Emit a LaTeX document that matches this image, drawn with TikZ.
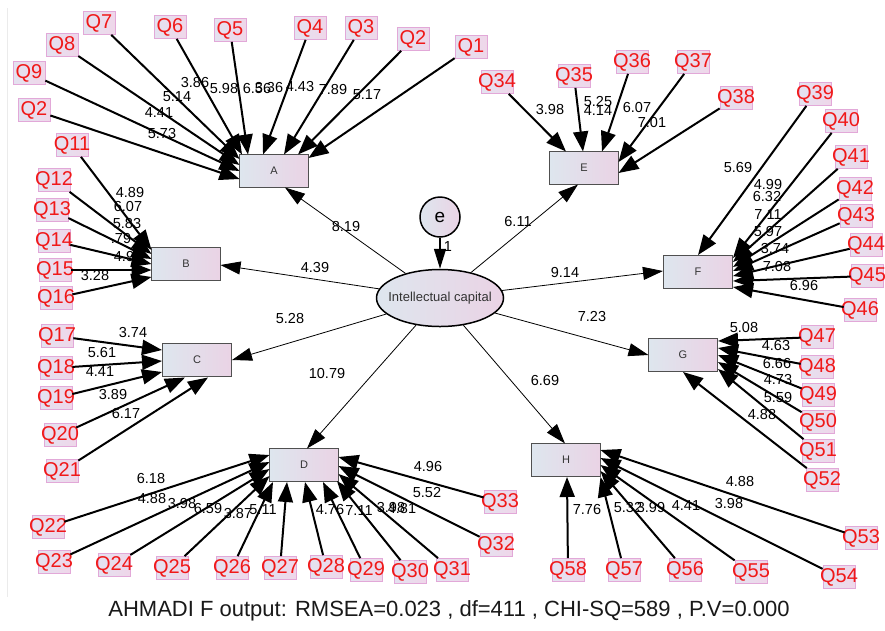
\documentclass[tikz,border=0pt]{standalone}
\usepackage{fontspec}
\setmainfont{Liberation Sans}
\usetikzlibrary{arrows.meta,calc,shapes.geometric}
\definecolor{qred}{HTML}{F01818}
\definecolor{qL}{HTML}{E4E2F0}
\definecolor{qR}{HTML}{EFD6E9}
\definecolor{qborder}{HTML}{E2A8D8}
\definecolor{qshadow}{HTML}{8878C8}
\definecolor{cL}{HTML}{DEE6EE}
\definecolor{cR}{HTML}{EAD3E5}
\definecolor{cborder}{HTML}{505050}
\definecolor{ctext}{HTML}{333333}
\newcommand\qfnt{\fontsize{20}{20}\selectfont}
\newcommand\nfnt{\fontsize{14.5}{14.5}\selectfont}
\newcommand\cfnt{\fontsize{11}{11}\selectfont}
\begin{document}
\begin{tikzpicture}[x=1pt,y=-1pt,
  qbox/.style={draw=qborder, line width=0.7pt, left color=qL, right color=qR,
    minimum width=32pt, minimum height=23pt, inner sep=0pt, text=qred, font=\qfnt,
    path picture={\draw[qshadow, line width=1.4pt]
      (path picture bounding box.north west) -- (path picture bounding box.south west)
      -- (path picture bounding box.south east);}},
  cbox/.style={draw=cborder, line width=1.2pt, left color=cL, right color=cR,
    minimum width=69pt, minimum height=33pt, inner sep=0pt, text=ctext, font=\cfnt},
  ind/.style={line width=2pt, -{Triangle[length=20pt,width=15pt]}},
  stru/.style={line width=0.8pt, -{Triangle[length=20pt,width=13pt]}},
  num/.style={font=\nfnt, inner sep=0pt, text=black}]
\useasboundingbox (0,0) rectangle (885,630);
\fill[white] (0,0) rectangle (885,630);
\draw[black!8, line width=0.8pt] (7,8) coordinate (lt) -- (7,597) coordinate (lb);

% constructs
\node[cbox] (A) at (274,171) {A};
\node[cbox] (B) at (186,264) {B};
\node[cbox] (C) at (197,360) {C};
\node[cbox] (D) at (304,465) {D};
\node[cbox] (E) at (584,168) {E};
\node[cbox] (F) at (698,272) {F};
\node[cbox] (G) at (683,355) {G};
\node[cbox] (H) at (566,460) {H};
\node[ellipse, draw=black, line width=1.5pt, left color=cL, right color=cR,
  minimum width=127pt, minimum height=57pt, inner sep=0pt, text=ctext,
  font=\fontsize{13}{13}\selectfont] (ic) at (440,298) {\makebox[0pt]{Intellectual capital}};
\node[circle, draw=black, line width=1.5pt, left color=cL, right color=cR,
  minimum size=40pt, inner sep=0pt, font=\fontsize{19}{19}\selectfont] (e) at (440,217) {e};

% indicators
\node[qbox] (Q7) at (99,23) {\makebox[0pt]{Q7}};
\node[qbox] (Q6) at (170,27) {\makebox[0pt]{Q6}};
\node[qbox] (Q5) at (230,30) {\makebox[0pt]{Q5}};
\node[qbox] (Q4) at (310,28) {\makebox[0pt]{Q4}};
\node[qbox] (Q3) at (361,28) {\makebox[0pt]{Q3}};
\node[qbox] (Q2) at (413,39) {\makebox[0pt]{Q2}};
\node[qbox] (Q1) at (471,47) {\makebox[0pt]{Q1}};
\node[qbox] (Q8) at (62,45) {\makebox[0pt]{Q8}};
\node[qbox] (Q9) at (29,73) {\makebox[0pt]{Q9}};
\node[qbox] (Q2a) at (34,110) {\makebox[0pt]{Q2}};
\node[qbox] (Q11) at (72,145) {\makebox[0pt]{Q11}};
\node[qbox] (Q12) at (54,180) {\makebox[0pt]{Q12}};
\node[qbox] (Q13) at (52,210) {\makebox[0pt]{Q13}};
\node[qbox] (Q14) at (54,241) {\makebox[0pt]{Q14}};
\node[qbox] (Q15) at (55,270) {\makebox[0pt]{Q15}};
\node[qbox] (Q16) at (56,298) {\makebox[0pt]{Q16}};
\node[qbox] (Q17) at (57,336) {\makebox[0pt]{Q17}};
\node[qbox] (Q18) at (56,368) {\makebox[0pt]{Q18}};
\node[qbox] (Q19) at (56,398) {\makebox[0pt]{Q19}};
\node[qbox] (Q20) at (60,435) {\makebox[0pt]{Q20}};
\node[qbox] (Q21) at (62,471) {\makebox[0pt]{Q21}};
\node[qbox] (Q22) at (48,527) {\makebox[0pt]{Q22}};
\node[qbox] (Q23) at (54,562) {\makebox[0pt]{Q23}};
\node[qbox] (Q24) at (114,565) {\makebox[0pt]{Q24}};
\node[qbox] (Q25) at (172,568) {\makebox[0pt]{Q25}};
\node[qbox] (Q26) at (232,568) {\makebox[0pt]{Q26}};
\node[qbox] (Q27) at (280,568) {\makebox[0pt]{Q27}};
\node[qbox] (Q28) at (326,567) {\makebox[0pt]{Q28}};
\node[qbox] (Q29) at (366,570) {\makebox[0pt]{Q29}};
\node[qbox] (Q30) at (410,572) {\makebox[0pt]{Q30}};
\node[qbox] (Q31) at (452,570) {\makebox[0pt]{Q31}};
\node[qbox] (Q32) at (496,545) {\makebox[0pt]{Q32}};
\node[qbox] (Q33) at (500,502) {\makebox[0pt]{Q33}};
\node[qbox] (Q34) at (497,82) {\makebox[0pt]{Q34}};
\node[qbox] (Q35) at (574,76) {\makebox[0pt]{Q35}};
\node[qbox] (Q36) at (632,62) {\makebox[0pt]{Q36}};
\node[qbox] (Q37) at (693,62) {\makebox[0pt]{Q37}};
\node[qbox] (Q38) at (736,98) {\makebox[0pt]{Q38}};
\node[qbox] (Q39) at (815,94) {\makebox[0pt]{Q39}};
\node[qbox] (Q40) at (841,121) {\makebox[0pt]{Q40}};
\node[qbox] (Q41) at (851,157) {\makebox[0pt]{Q41}};
\node[qbox] (Q42) at (855,189) {\makebox[0pt]{Q42}};
\node[qbox] (Q43) at (856,216) {\makebox[0pt]{Q43}};
\node[qbox] (Q44) at (866,245) {\makebox[0pt]{Q44}};
\node[qbox] (Q45) at (867,276) {\makebox[0pt]{Q45}};
\node[qbox] (Q46) at (860,310) {\makebox[0pt]{Q46}};
\node[qbox] (Q47) at (817,337) {\makebox[0pt]{Q47}};
\node[qbox] (Q48) at (817,367) {\makebox[0pt]{Q48}};
\node[qbox] (Q49) at (818,395) {\makebox[0pt]{Q49}};
\node[qbox] (Q50) at (818,422) {\makebox[0pt]{Q50}};
\node[qbox] (Q51) at (818,451) {\makebox[0pt]{Q51}};
\node[qbox] (Q52) at (822,480) {\makebox[0pt]{Q52}};
\node[qbox] (Q53) at (861,538) {\makebox[0pt]{Q53}};
\node[qbox] (Q54) at (839,577) {\makebox[0pt]{Q54}};
\node[qbox] (Q55) at (751,572) {\makebox[0pt]{Q55}};
\node[qbox] (Q56) at (685,570) {\makebox[0pt]{Q56}};
\node[qbox] (Q57) at (624,570) {\makebox[0pt]{Q57}};
\node[qbox] (Q58) at (568,570) {\makebox[0pt]{Q58}};

% loading labels
\node[num] (lA1) at (195,83) {3.86};
\node[num] (lA2) at (224,89) {5.98};
\node[num] (lA3) at (257,89) {6.56};
\node[num] (lA4) at (269,88) {3.36};
\node[num] (lA5) at (300,87) {4.43};
\node[num] (lA6) at (333,90) {7.89};
\node[num] (lA7) at (367,95) {5.17};
\node[num] (lA8) at (177,97) {5.14};
\node[num] (lA9) at (159,113) {4.41};
\node[num] (lA10) at (162,134) {5.73};
\node[num] (lB1) at (130,193) {4.89};
\node[num] (lB2) at (128,207) {6.07};
\node[num] (lB3) at (127,224) {5.83};
\node[num] (lB4) at (121,239) {.79};
\node[num] (lB5) at (124,257) {4.9};
\node[num] (lB6) at (95,275) {3.28};
\node[num] (lC1) at (133,332) {3.74};
\node[num] (lC2) at (102,352) {5.61};
\node[num] (lC3) at (100,372) {4.41};
\node[num] (lC4) at (113,394) {3.89};
\node[num] (lC5) at (126,413) {6.17};
\node[num] (lD1) at (151,478) {6.18};
\node[num] (lD2) at (152,498) {4.88};
\node[num] (lD3) at (182,503) {3.98};
\node[num] (lD4) at (208,508) {6.59};
\node[num] (lD5) at (238,513) {3.87};
\node[num] (lD6) at (263,510) {5.11};
\node[num] (lD7) at (330,509) {4.76};
\node[num] (lD8) at (359,510) {7.11};
\node[num] (lD9) at (391,507) {3.98};
\node[num] (lD10) at (402,508) {4.81};
\node[num] (lD11) at (428,466) {4.96};
\node[num] (lD12) at (427,492) {5.52};
\node[num] (lE1) at (550,110) {3.98};
\node[num] (lE2) at (598,102) {5.25};
\node[num] (lE3) at (598,111) {4.14};
\node[num] (lE4) at (637,108) {6.07};
\node[num] (lE5) at (652,123) {7.01};
\node[num] (lF1) at (738,168) {5.69};
\node[num] (lF2) at (768,185) {4.99};
\node[num] (lF3) at (767,197) {6.32};
\node[num] (lF4) at (768,215) {7.11};
\node[num] (lF5) at (768,232) {5.97};
\node[num] (lF6) at (775,248) {3.74};
\node[num] (lF7) at (777,266) {7.08};
\node[num] (lF8) at (804,285) {6.96};
\node[num] (lG1) at (744,327) {5.08};
\node[num] (lG2) at (776,345) {4.63};
\node[num] (lG3) at (777,363) {6.66};
\node[num] (lG4) at (778,379) {4.73};
\node[num] (lG5) at (778,397) {5.59};
\node[num] (lG6) at (762,414) {4.88};
\node[num] (lH1) at (587,509) {7.76};
\node[num] (lH2) at (628,507) {5.32};
\node[num] (lH3) at (651,507) {3.99};
\node[num] (lH4) at (686,505) {4.41};
\node[num] (lH5) at (729,503) {3.98};
\node[num] (lH6) at (740,481) {4.88};
% structural labels
\node[num] (sA) at (346,227) {8.19};
\node[num] (sE) at (518,222) {6.11};
\node[num] (sB) at (315,267) {4.39};
\node[num] (sF) at (565,272) {9.14};
\node[num] (sC) at (290,318) {5.28};
\node[num] (sG) at (592,316) {7.23};
\node[num] (sD) at (327,373) {10.79};
\node[num] (sH) at (545,380) {6.69};
\node[num] (s1) at (448,247) {1};

% structural arrows
\draw[stru] (ic) -- ($(A)+(11,16.5)$);
\draw[stru] (ic) -- ($(E)+(-6,16.5)$);
\draw[stru] (ic) -- ($(B)+(34.5,1)$);
\draw[stru] (ic) -- ($(C)+(35,0)$);
\draw[stru] (ic) -- ($(D)+(3,-16.5)$);
\draw[stru] (ic) -- ($(H)+(-1,-16.5)$);
\draw[stru] (ic) -- ($(F)+(-35,-1)$);
\draw[stru] (ic) -- ($(G)+(-34.5,0)$);
\draw[line width=1.5pt, -{Triangle[length=20pt,width=12pt]}] (e) -- (ic);

% indicator arrows A
\draw[ind] (Q6) -- ($(A)+(-32,-16.5)$);
\draw[ind] (Q7) -- ($(A)+(-34.5,-12)$);
\draw[ind] (Q8) -- ($(A)+(-34.5,-6)$);
\draw[ind] (Q9) -- ($(A)+(-34.5,0)$);
\draw[ind] (Q2a) -- ($(A)+(-34.5,8)$);
\draw[ind] (Q5) -- ($(A)+(-26,-16.5)$);
\draw[ind] (Q4) -- ($(A)+(-11,-16.5)$);
\draw[ind] (Q3) -- ($(A)+(10,-16.5)$);
\draw[ind] (Q2) -- ($(A)+(24,-16.5)$);
\draw[ind] (Q1) -- ($(A)+(34.5,-13)$);
% B
\draw[ind] (Q11) -- ($(B)+(-34.5,-14)$);
\draw[ind] (Q12) -- ($(B)+(-34.5,-10)$);
\draw[ind] (Q13) -- ($(B)+(-34.5,-5)$);
\draw[ind] (Q14) -- ($(B)+(-34.5,0)$);
\draw[ind] (Q15) -- ($(B)+(-34.5,6)$);
\draw[ind] (Q16) -- ($(B)+(-34.5,13)$);
% C
\draw[ind] (Q17) -- ($(C)+(-35,-10)$);
\draw[ind] (Q18) -- ($(C)+(-35,1)$);
\draw[ind] (Q19) -- ($(C)+(-35,12)$);
\draw[ind] (Q20) -- ($(C)+(-12,17.5)$);
\draw[ind] (Q21) -- ($(C)+(11,17.5)$);
% D
\draw[ind] (Q22) -- ($(D)+(-34.5,-10)$);
\draw[ind] (Q23) -- ($(D)+(-34.5,-3)$);
\draw[ind] (Q24) -- ($(D)+(-34.5,4)$);
\draw[ind] (Q25) -- ($(D)+(-34.5,11)$);
\draw[ind] (Q26) -- ($(D)+(-31,17)$);
\draw[ind] (Q27) -- ($(D)+(-17,17)$);
\draw[ind] (Q28) -- ($(D)+(1,17)$);
\draw[ind] (Q29) -- ($(D)+(19,17)$);
\draw[ind] (Q30) -- ($(D)+(33,16)$);
\draw[ind] (Q31) -- ($(D)+(34.5,9)$);
\draw[ind] (Q32) -- ($(D)+(34.5,1)$);
\draw[ind] (Q33) -- ($(D)+(34.5,-8)$);
% E
\draw[ind] (Q34) -- ($(E)+(-18,-16.5)$);
\draw[ind] (Q35) -- ($(E)+(-1,-16.5)$);
\draw[ind] (Q36) -- ($(E)+(18,-16.5)$);
\draw[ind] (Q37) -- ($(E)+(34.5,-6)$);
\draw[ind] (Q38) -- ($(E)+(34.5,5)$);
% F
\draw[ind] (Q39) -- ($(F)+(0,-17)$);
\draw[ind] (Q40) -- ($(F)+(35,-14)$);
\draw[ind] (Q41) -- ($(F)+(35,-10)$);
\draw[ind] (Q42) -- ($(F)+(35,-5)$);
\draw[ind] (Q43) -- ($(F)+(35,-1)$);
\draw[ind] (Q44) -- ($(F)+(35,4)$);
\draw[ind] (Q45) -- ($(F)+(35,9)$);
\draw[ind] (Q46) -- ($(F)+(35,15)$);
% G
\draw[ind] (Q47) -- ($(G)+(35,-14)$);
\draw[ind] (Q48) -- ($(G)+(35,-7)$);
\draw[ind] (Q49) -- ($(G)+(35,0)$);
\draw[ind] (Q50) -- ($(G)+(35,7)$);
\draw[ind] (Q51) -- ($(G)+(35,14)$);
\draw[ind] (Q52) -- ($(G)+(0,17)$);
% H
\draw[ind] (Q58) -- ($(H)+(1,17)$);
\draw[ind] (Q57) -- ($(H)+(34.5,17)$);
\draw[ind] (Q56) -- ($(H)+(34.5,11)$);
\draw[ind] (Q55) -- ($(H)+(34.5,5)$);
\draw[ind] (Q54) -- ($(H)+(34.5,-2)$);
\draw[ind] (Q53) -- ($(H)+(34.5,-10)$);

\node[font=\fontsize{22}{22}\selectfont, text=black!90, inner sep=0pt] (cap) at (449,611)
  {AHMADI F output: RMSEA=0.023 , df=411 , CHI-SQ=589 , P.V=0.000};
\end{tikzpicture}
\end{document}
